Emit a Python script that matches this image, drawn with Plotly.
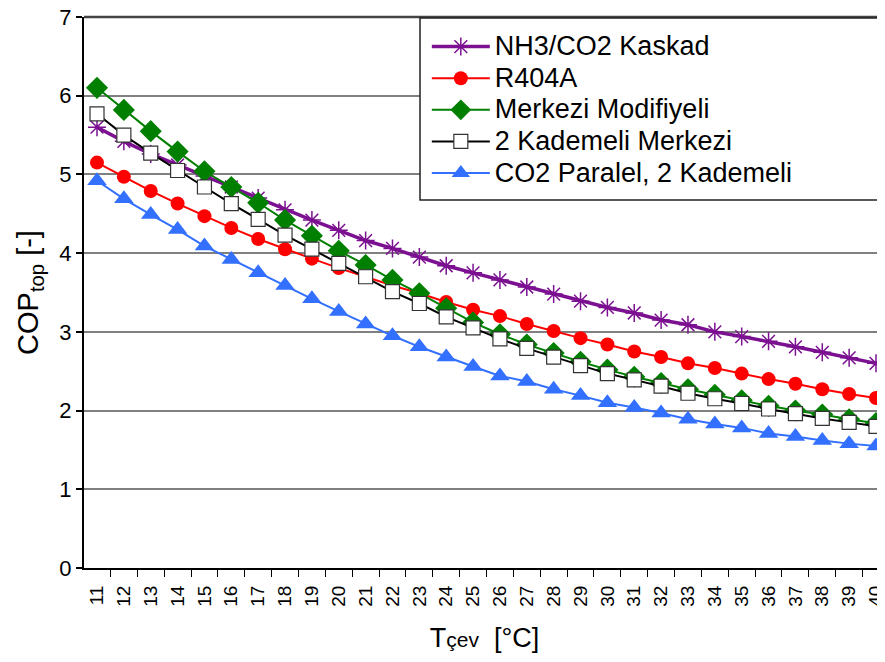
import plotly.graph_objects as go

temps = list(range(11, 41))

nh3_co2_kaskad = [5.60, 5.42, 5.26, 5.12, 4.98, 4.84, 4.70, 4.55, 4.42, 4.29,
                  4.16, 4.06, 3.95, 3.84, 3.75, 3.66, 3.57, 3.48, 3.39, 3.31,
                  3.24, 3.15, 3.09, 3.00, 2.94, 2.88, 2.81, 2.74, 2.67, 2.60]
r404a = [5.15, 4.97, 4.79, 4.63, 4.47, 4.32, 4.18, 4.05, 3.93, 3.81,
         3.70, 3.59, 3.49, 3.38, 3.28, 3.20, 3.10, 3.01, 2.92, 2.84,
         2.75, 2.68, 2.60, 2.54, 2.47, 2.40, 2.34, 2.27, 2.21, 2.16]
merkezi_modifiyeli = [6.10, 5.82, 5.55, 5.29, 5.04, 4.84, 4.64, 4.42, 4.22, 4.03,
                      3.85, 3.66, 3.49, 3.30, 3.12, 2.97, 2.84, 2.73, 2.62, 2.52,
                      2.43, 2.35, 2.27, 2.20, 2.13, 2.06, 2.00, 1.95, 1.89, 1.84]
kademeli_merkezi = [5.77, 5.50, 5.27, 5.05, 4.84, 4.63, 4.43, 4.23, 4.05, 3.87,
                    3.70, 3.51, 3.36, 3.19, 3.05, 2.91, 2.79, 2.68, 2.57, 2.47,
                    2.39, 2.31, 2.22, 2.15, 2.09, 2.02, 1.96, 1.90, 1.85, 1.80]
co2_paralel = [4.92, 4.69, 4.49, 4.30, 4.09, 3.92, 3.75, 3.59, 3.42, 3.26,
               3.10, 2.95, 2.81, 2.68, 2.56, 2.44, 2.37, 2.27, 2.19, 2.10,
               2.04, 1.97, 1.89, 1.83, 1.78, 1.71, 1.67, 1.62, 1.58, 1.55]

series_names = ["NH3/CO2 Kaskad", "R404A", "Merkezi Modifiyeli",
                "2 Kademeli Merkezi", "CO2 Paralel, 2 Kademeli"]


def leg(name):
    return "<span style='font-size:27px'>" + name + "</span>"


fig = go.Figure()

fig.add_trace(go.Scatter(
    x=temps, y=nh3_co2_kaskad, name=leg(series_names[0]), mode="lines+markers",
    line=dict(color="#7b1090", width=3.5),
    marker=dict(symbol="asterisk-open", size=15, line=dict(color="#9a3db0", width=1.5))))
fig.add_trace(go.Scatter(
    x=temps, y=r404a, name=leg(series_names[1]), mode="lines+markers",
    line=dict(color="#ff0000", width=2),
    marker=dict(symbol="circle", size=14, color="#ff0000")))
fig.add_trace(go.Scatter(
    x=temps, y=merkezi_modifiyeli, name=leg(series_names[2]), mode="lines+markers",
    line=dict(color="#007f00", width=2),
    marker=dict(symbol="diamond", size=17, color="#007f00")))
fig.add_trace(go.Scatter(
    x=temps, y=kademeli_merkezi, name=leg(series_names[3]), mode="lines+markers",
    line=dict(color="#000000", width=2),
    marker=dict(symbol="square", size=14, color="#ffffff", line=dict(color="#333333", width=1.2))))
fig.add_trace(go.Scatter(
    x=temps, y=co2_paralel, name=leg(series_names[4]), mode="lines+markers",
    line=dict(color="#3370ff", width=2),
    marker=dict(symbol="triangle-up", size=17, color="#3370ff")))

# page body has an 8px margin: compensate so the plot area lands where the reference has it
fig.update_layout(
    width=877, height=654,
    margin=dict(l=76, r=0, t=9, b=94),
    paper_bgcolor="white", plot_bgcolor="white",
    font=dict(family="Liberation Sans, Arial, sans-serif", color="black"),
    showlegend=True,
    legend=dict(
        x=0.428, y=0.984, xanchor="left", yanchor="top",
        bgcolor="rgba(0,0,0,0)", borderwidth=0,
        font=dict(size=22, color="black"),
        traceorder="normal", itemwidth=58,
    ),
)

fig.update_xaxes(
    range=[10.516, 40.335], automargin=False,
    tickmode="array", tickvals=temps, ticktext=[str(t) for t in temps],
    tickangle=-90, ticklen=0, ticklabelstandoff=8, ticklabeloverflow="allow",
    tickfont=dict(size=19),
    showgrid=False, zeroline=False,
    showline=True, linecolor="black", linewidth=2,
    minor=dict(tick0=10.5, dtick=1, ticklen=7, tickcolor="black", ticks="outside", showgrid=False),
    title=dict(text="T<span style='font-size:21px'>çev</span>  [°C]", font=dict(size=27), standoff=22),
)
fig.update_yaxes(
    range=[0, 7], tickvals=[0, 1, 2, 3, 4, 5, 6, 7], automargin=False,
    ticks="outside", ticklen=6, tickcolor="black", tickwidth=1.5,
    ticklabeloverflow="allow",
    tickfont=dict(size=22),
    showgrid=True, gridcolor="#808080", gridwidth=1.5,
    zeroline=False,
    showline=True, linecolor="black", linewidth=2,
    title=dict(text="COP<sub>top</sub> [-]", font=dict(size=29), standoff=12),
)

# top border line of plot area
fig.add_shape(type="line", xref="paper", yref="paper", x0=0, x1=1, y0=1, y1=1,
              line=dict(color="#444444", width=2.5), layer="below")
# legend box (extends past the right edge, as in the reference)
fig.add_shape(type="rect", xref="paper", yref="paper",
              x0=0.4195, x1=1.05, y0=0.668, y1=0.998,
              fillcolor="white", line=dict(color="#222222", width=1.5), layer="above")

fig.write_html("out.html")
